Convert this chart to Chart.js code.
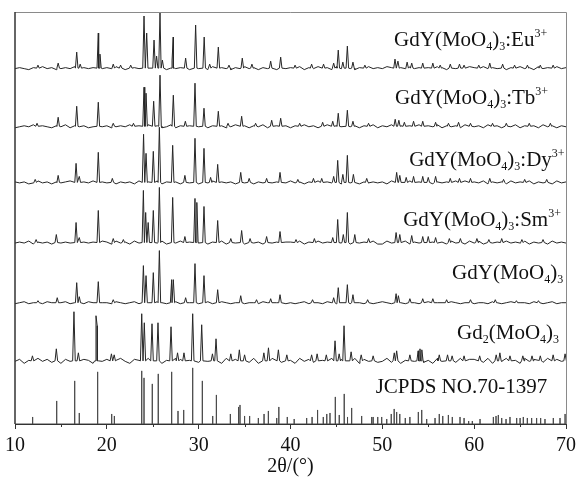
<!DOCTYPE html>
<html>
<head>
<meta charset="utf-8">
<script src="https://cdn.jsdelivr.net/npm/chart.js@4.4.0/dist/chart.umd.min.js"></script>
<style>
html,body{margin:0;padding:0;background:#fff}
#wrap{width:578px;height:478px}
</style>
</head>
<body>
<div id="wrap"><canvas id="xrd"></canvas></div>
<script>
// peak lists: [2theta, intensity]
const euPeaks = [[12.5,3],[14.7,5],[16.72,16],[17.1,4],[19.07,35],[19.25,14],[20.7,4],[21.5,3],[22.6,3],[24.05,52],[24.34,35],[25.14,28],[25.42,12],[25.79,55],[26.05,8],[27.1,8],[27.24,31],[28.58,10],[29.67,43],[30.6,31],[31.2,4],[32.14,21],[33.3,3],[34.75,10],[35.8,4],[37.84,7],[38.93,11],[40.5,3],[42.3,4],[43.6,4],[44.7,5],[45.2,18],[45.7,6],[46.19,22],[46.8,6],[48.1,3],[51.38,9],[51.7,7],[52.7,6],[53.2,5],[54.4,5],[55.5,5],[56.3,3],[57.4,4],[58.4,4],[58.9,3],[60.5,3],[61.7,5],[63.1,4],[64.4,3],[65.8,3],[67.2,3],[68.6,3]];
const tbPeaks = [[12.4,3],[14.7,9],[16.72,20],[19.07,24],[20.7,3],[22.9,3],[24.05,39],[24.27,33],[25.1,25],[25.79,51],[27.24,31],[28.55,5],[29.6,43],[30.58,18],[32.14,15],[33.2,3],[34.68,10],[36.2,3],[37.95,6],[38.93,8],[41,3],[43.5,4],[44.6,5],[45.2,13],[46.19,16],[46.8,5],[48.5,3],[51.4,7],[51.8,6],[52.4,4],[53.4,5],[54.4,5],[55.8,4],[57.2,3],[58.3,4],[59.6,3],[62.0,3],[63.5,3],[66,3],[68.3,3]];
const dyPeaks = [[12.2,3],[14.7,7],[16.65,19],[17.0,6],[19.07,30],[20.6,4],[24.0,48],[24.27,29],[25.06,31],[25.72,55],[27.17,37],[28.5,7],[29.6,44],[30.58,34],[31.3,5],[32.07,18],[34.58,10],[35.5,4],[37.4,4],[38.86,10],[40.8,3],[42.5,4],[43.4,4],[44.7,6],[45.14,22],[45.7,8],[46.19,27],[46.85,8],[48.3,4],[51.56,10],[51.9,7],[52.6,5],[53.4,6],[54.4,6],[55.0,5],[55.8,6],[57.4,4],[58.4,4],[59.6,4],[61.7,4],[63.2,3],[65.5,3],[67.9,3]];
const smPeaks = [[12.3,3],[14.5,8],[16.65,20],[17.0,5],[19.07,32],[20.7,4],[21.8,3],[23.98,52],[24.23,30],[24.5,20],[25.06,32],[25.72,55],[27.17,45],[28.5,6],[29.6,44],[29.8,40],[30.58,36],[32.07,22],[33.5,4],[34.68,12],[35.6,4],[37.4,6],[38.86,11],[40.6,3],[42.6,4],[44.6,5],[45.14,23],[45.75,8],[46.19,30],[47.0,8],[48.5,4],[51.5,10],[51.9,8],[53.2,7],[54.4,6],[55.0,6],[55.8,5],[57.3,4],[58.5,4],[60.3,4],[61.6,3],[63.0,4],[65.2,3],[67.5,3]];
const gdyPeaks = [[12.5,2],[14.6,5],[16.72,20],[17.0,6],[19.07,21],[20.7,3],[23.98,37],[24.27,27],[25.06,30],[25.72,52],[27.06,23],[27.24,23],[28.58,5],[29.6,39],[30.58,27],[32.07,13],[34.58,7],[36.3,3],[37.84,4],[38.86,8],[42.4,3],[44.7,5],[45.2,15],[46.19,18],[46.8,8],[48.4,3],[51.5,9],[51.75,7],[53.0,4],[54.4,4],[55.5,4],[57.0,3],[59.6,3],[62.3,3],[64.6,2],[67,2]];
const gd2Peaks = [[11.9,5],[14.5,12],[16.42,49],[16.9,8],[18.82,45],[18.95,35],[20.5,7],[20.8,6],[23.8,47],[24.08,38],[24.92,37],[25.57,38],[26.99,34],[27.7,8],[28.4,8],[29.35,47],[30.33,36],[31.5,7],[31.89,22],[33.5,7],[34.43,11],[35.0,6],[37.1,8],[37.6,13],[38.68,11],[39.6,6],[42.3,6],[42.9,7],[43.9,6],[44.85,20],[45.3,7],[45.83,35],[46.6,9],[47.7,6],[49.0,5],[51.3,8],[51.56,10],[53.0,6],[53.9,10],[54.1,12],[54.3,11],[56.2,6],[57.1,6],[57.6,5],[58.9,5],[60.6,5],[62.4,6],[62.8,8],[63.9,5],[65.3,5],[66.3,5],[67.2,5],[68.6,6],[69.9,7]];
const jcpdsLines = [[11.92,7],[14.54,23],[16.5,43],[17.0,11],[19.0,52],[20.53,10],[20.82,8],[23.8,53],[24.05,46],[24.95,40],[25.6,50],[27.06,52],[27.75,13],[28.37,14],[29.35,56],[30.4,43],[31.53,8],[31.93,29],[33.45,10],[34.34,17],[34.5,19],[35.0,8],[35.55,8],[36.5,6],[37.12,10],[37.59,13],[38.5,6],[38.73,17],[39.65,7],[40.4,5],[41.76,6],[42.35,7],[42.95,14],[43.57,7],[43.95,10],[44.3,11],[44.88,27],[45.31,9],[45.85,30],[46.21,7],[46.66,16],[47.75,8],[48.84,7],[49.0,7],[49.5,7],[49.93,7],[50.48,5],[50.97,10],[51.29,15],[51.56,12],[51.9,10],[52.5,6],[53.0,7],[53.92,12],[54.29,14],[54.83,5],[55.74,6],[56.2,10],[56.58,8],[57.19,9],[57.62,7],[58.46,7],[58.9,6],[59.4,3],[59.8,3],[60.64,5],[62.09,7],[62.38,8],[62.63,9],[63.0,6],[63.47,5],[63.9,7],[64.63,6],[65.0,6],[65.35,7],[65.79,6],[66.26,6],[66.8,6],[67.24,6],[67.71,5],[68.62,6],[69.35,6],[69.9,10]];

// background ripple, one digit per 0.5 deg from 10 to 70
const euNoise  = "12102131201213021201"+"21320121302120312102"+"12031210213120213021"+"21302131203121021312"+"13202131202132031213"+"20312130213120312031"+"2";
const tbNoise  = "01213021021302120131"+"20121302131201302120"+"13021201312021301212"+"02131201302131202130"+"21302121302130212031"+"12031202130212031202"+"1";
const dyNoise  = "21201312021230121302"+"13021203121302120312"+"02130212031202131201"+"31202130212031302121"+"20312130213021203130"+"21302120312130212031"+"2";
const smNoise  = "12130212031213021203"+"20312031202130213021"+"13021302120312031202"+"21302131203120312130"+"03121302130212031203"+"13021203121302120312"+"1";
const gdyNoise = "01201102101201102101"+"10210120110210120110"+"01201210120110210120"+"10120110210120110201"+"21011021012011021012"+"01102101201102101201"+"1";
const gd2Noise = "35142635241536254163"+"52463154263514265341"+"26354162534261536425"+"41635254163524615342"+"36251463524163542615"+"54261536241635426153"+"4";

const xTicks = [10,20,30,40,50,60,70];
const xTitle = '2θ/(°)';
const seriesNames = [
  [['GdY(MoO',''],['4','sub'],[')',''],['3','sub'],[':Eu',''],['3+','sup']],
  [['GdY(MoO',''],['4','sub'],[')',''],['3','sub'],[':Tb',''],['3+','sup']],
  [['GdY(MoO',''],['4','sub'],[')',''],['3','sub'],[':Dy',''],['3+','sup']],
  [['GdY(MoO',''],['4','sub'],[')',''],['3','sub'],[':Sm',''],['3+','sup']],
  [['GdY(MoO',''],['4','sub'],[')',''],['3','sub']],
  [['Gd',''],['2','sub'],['(MoO',''],['4','sub'],[')',''],['3','sub']],
  [['JCPDS NO.70-1397','']]
];

// layout / style
const traces = [
  {peaks: euPeaks,  noise: euNoise,  shift: 1.5, offset: 355},
  {peaks: tbPeaks,  noise: tbNoise,  shift: 1.5, offset: 297},
  {peaks: dyPeaks,  noise: dyNoise,  shift: 1.5, offset: 241},
  {peaks: smPeaks,  noise: smNoise,  shift: 1.5, offset: 181},
  {peaks: gdyPeaks, noise: gdyNoise, shift: 1,   offset: 121},
  {peaks: gd2Peaks, noise: gd2Noise, shift: 3.5, offset: 63}
];
const labelAnchor = [[67.95,377],[68.05,319],[69.85,257],[69.45,198],[69.7,145],[69.25,85],[67.95,31]];
const peakHalfWidth = 0.14;
const SERIF = "'Liberation Serif','Times New Roman',serif";

function buildTrace(t){
  const pts = [];
  t.peaks.forEach(([x,h])=>{
    pts.push({x:x-peakHalfWidth, y:t.offset});
    pts.push({x:x, y:t.offset+h});
    pts.push({x:x+peakHalfWidth, y:t.offset});
  });
  for(let i=0;i<t.noise.length;i++){
    const x = 10+0.5*i;
    if(t.peaks.some(p=>Math.abs(p[0]-x)<peakHalfWidth+0.05)) continue;
    pts.push({x:x, y:t.offset + (+t.noise[i]) - t.shift});
  }
  pts.sort((a,b)=>a.x-b.x);
  return pts;
}
function buildSticks(lines){
  const pts = [{x:10,y:0}];
  lines.forEach(([x,h])=>{ pts.push({x:x,y:0},{x:x,y:h},{x:x,y:0}); });
  pts.push({x:70,y:0});
  return pts;
}

const datasets = traces.map(t=>({data: buildTrace(t), borderColor:'#262626', borderWidth:1, pointRadius:0, tension:0}));
datasets.push({data: buildSticks(jcpdsLines), borderColor:'#4a4a4a', borderWidth:1, pointRadius:0, tension:0});

const framePlugin = {
  id:'frame',
  afterDraw(chart){
    const {ctx, chartArea:a, scales:{x}} = chart;
    ctx.save();
    ctx.strokeStyle='#8a8a8a'; ctx.lineWidth=1;
    ctx.beginPath();
    ctx.moveTo(a.left, a.top+0.5); ctx.lineTo(a.right+0.5, a.top+0.5); ctx.lineTo(a.right+0.5, a.bottom);
    ctx.stroke();
    ctx.strokeStyle='#333'; ctx.lineWidth=1.5;
    ctx.beginPath(); ctx.moveTo(a.left, a.top); ctx.lineTo(a.left, a.bottom); ctx.stroke();
    ctx.lineWidth=1;
    for(let v=15; v<70; v+=10){
      const px = Math.round(x.getPixelForValue(v))+0.5;
      ctx.beginPath(); ctx.moveTo(px, a.bottom); ctx.lineTo(px, a.bottom+3); ctx.stroke();
    }
    ctx.restore();
  }
};

const labelPlugin = {
  id:'names',
  afterDraw(chart){
    const {ctx, scales:{x,y}} = chart;
    ctx.save();
    ctx.fillStyle='#111';
    ctx.textBaseline='alphabetic';
    const fontFor = k => (k ? '12px ' : '21px ') + SERIF;
    seriesNames.forEach((parts,i)=>{
      let w = 0;
      parts.forEach(([s,k])=>{ ctx.font=fontFor(k); w += ctx.measureText(s).width; });
      let px = x.getPixelForValue(labelAnchor[i][0]) - w;
      const base = y.getPixelForValue(labelAnchor[i][1]);
      parts.forEach(([s,k])=>{
        ctx.font=fontFor(k);
        const dy = k==='sub' ? 4 : k==='sup' ? -9 : 0;
        ctx.fillText(s, px, base+dy);
        px += ctx.measureText(s).width;
      });
    });
    ctx.restore();
  }
};

new Chart(document.getElementById('xrd'), {
  type:'line',
  data:{datasets},
  options:{
    responsive:true, maintainAspectRatio:false, animation:false, devicePixelRatio:1,
    layout:{padding:{left:15, right:12, top:12, bottom:0}},
    plugins:{legend:{display:false}, tooltip:{enabled:false}},
    scales:{
      x:{type:'linear', min:10, max:70,
        afterBuildTicks: s => { s.ticks = xTicks.map(v=>({value:v})); },
        afterFit: s => { s.paddingLeft = 0; s.paddingRight = 0; },
        ticks:{color:'#111', font:{family:SERIF, size:20, lineHeight:1}, padding:7, maxRotation:0},
        grid:{drawOnChartArea:false, drawTicks:true, tickLength:5, tickColor:'#333'},
        border:{display:true, color:'#333', width:1},
        title:{display:true, text:xTitle, color:'#111', font:{family:SERIF, size:20, lineHeight:1.15}, padding:{top:-8,bottom:0}}
      },
      y:{display:false, min:0, max:411}
    }
  },
  plugins:[framePlugin, labelPlugin]
});
</script>
</body>
</html>
